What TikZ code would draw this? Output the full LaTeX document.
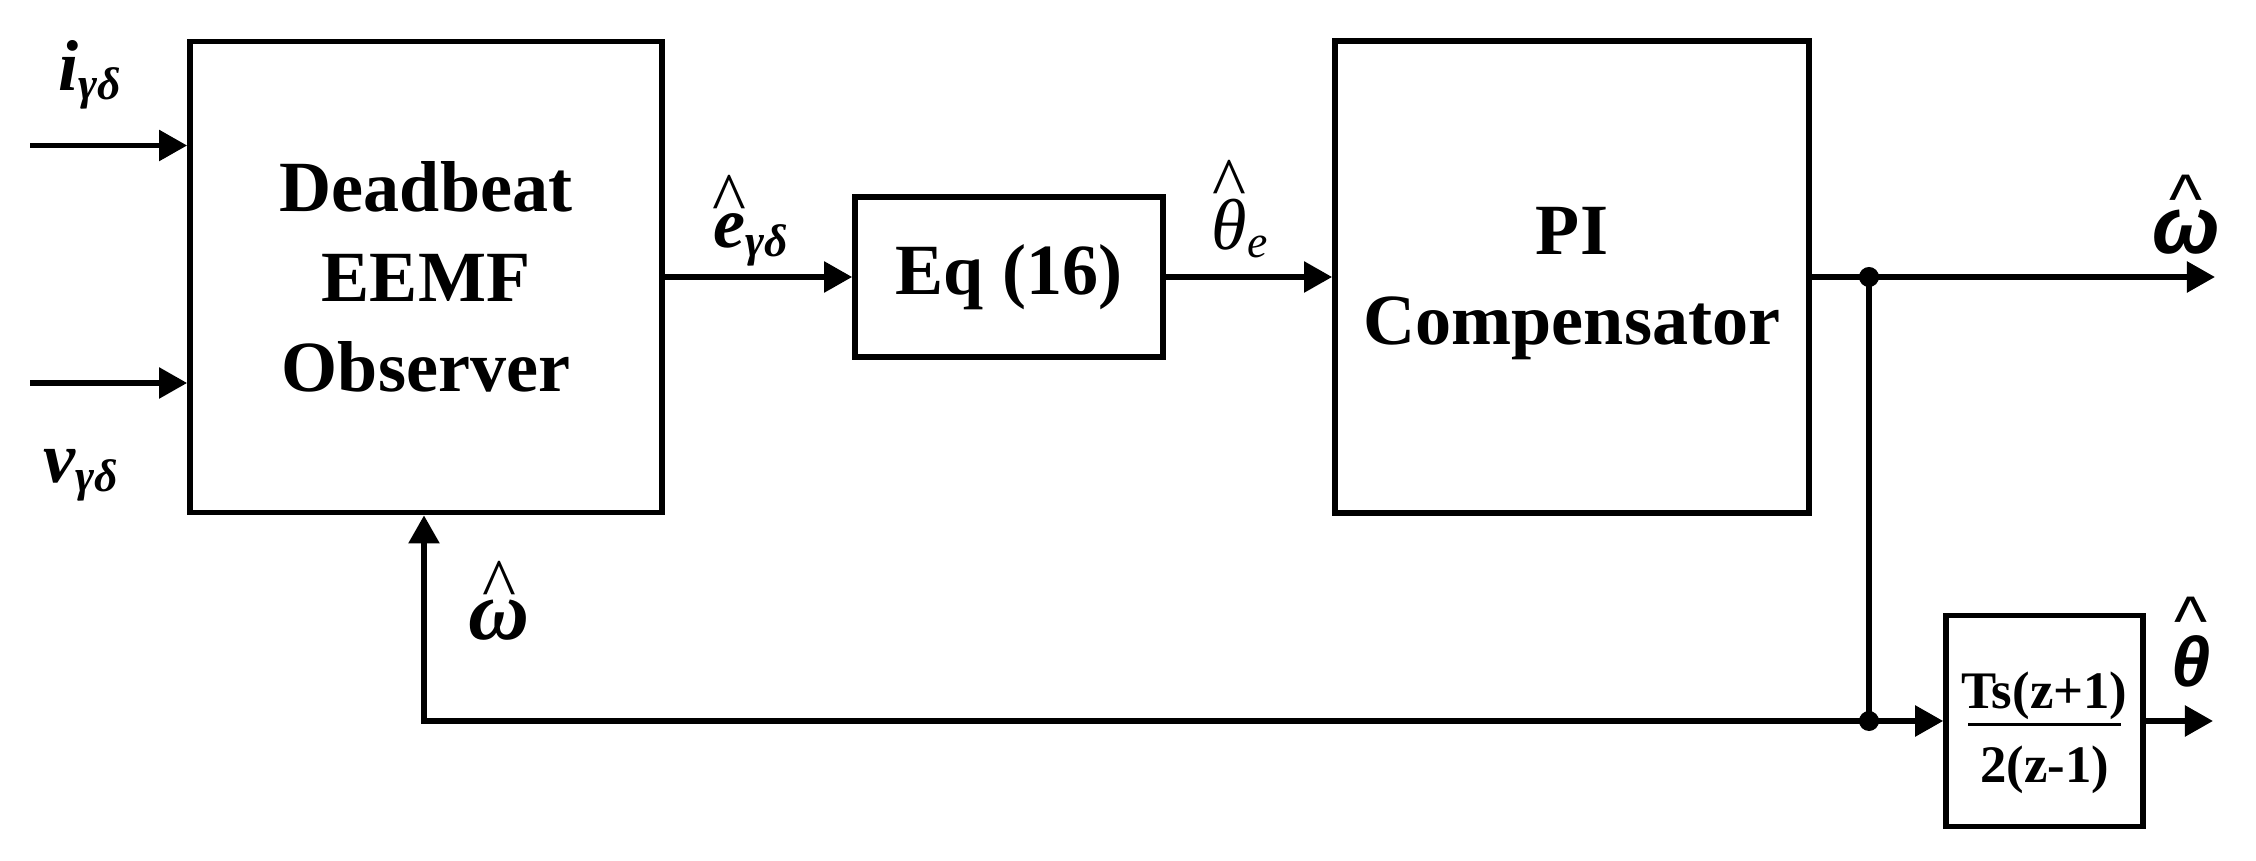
\documentclass[tikz,border=0pt]{standalone}
\usepackage{fontspec}
\setmainfont{Liberation Serif}
\newfontfamily\sansf{Liberation Sans}
\usetikzlibrary{arrows.meta}
\newcommand\hatover[3]{\ooalign{#3\cr\hidewidth\raisebox{#1}{#2\textasciicircum}\hidewidth\cr}}
\newcommand\serifhat{\normalfont\fontsize{20.5}{20}\selectfont}
\newcommand\sanshat{\sansf\mdseries\upshape\fontsize{20}{20}\selectfont}
\newcommand\subsz{\fontsize{13}{14}\selectfont}
\begin{document}
\begin{tikzpicture}[x=0.01cm,y=-0.01cm,
  lw/.style={line width=0.055cm},
  arr/.style={-{Triangle[length=0.28cm,width=0.30cm]}},
  blk/.style={draw, line width=0.055cm, inner sep=0pt, align=center,
    font=\fontsize{20.5}{25.5}\selectfont\bfseries},
  lbl/.style={inner sep=0pt, font=\fontsize{20.5}{24}\selectfont}]
\useasboundingbox (0,0) rectangle (2256,861);
% blocks
\node[blk, minimum width=4.72cm, minimum height=4.71cm] (obs) at (426,277) {Deadbeat\\EEMF\\Observer};
\node[blk, minimum width=3.08cm, minimum height=1.60cm] (eq) at (1009,277) {Eq (16)};
\node[blk, minimum width=4.74cm, minimum height=4.72cm] (pi) at (1572,277) {\rule{0pt}{17pt}PI\\Compensator};
\node[blk, minimum width=1.97cm, minimum height=2.11cm, font=\fontsize{15}{16}\selectfont\bfseries] (ts) at (2044.5,721)
  {\rule{0pt}{17pt}Ts(z+1)\\[-11pt]\rule{1.52cm}{0.03cm}\\2(z-1)};
% coordinates
\coordinate (iin) at (30,145.5);
\coordinate (vin) at (30,383);
\coordinate (j1) at (1869,277);
\coordinate (j2) at (1869,721);
\coordinate (wout) at (2215,277);
\coordinate (tout) at (2213,721);
\coordinate (fb) at (424,721);
% connectors
\draw[lw,arr] (iin) -- (iin -| obs.west);
\draw[lw,arr] (vin) -- (vin -| obs.west);
\draw[lw,arr] (obs.east) -- (eq.west);
\draw[lw,arr] (eq.east) -- (pi.west);
\draw[lw,arr] (pi.east) -- (wout);
\draw[lw] (j1) -- (j2);
\draw[lw,arr] (j2) -- (ts.west);
\draw[lw,arr] (j2) -- (fb) -- (fb |- obs.south);
\draw[lw,arr] (ts.east) -- (tout);
\fill (j1) circle (0.1cm);
\fill (j2) circle (0.1cm);
% labels
\node[lbl, anchor=base west] (il) at (58,91) {\bfseries\itshape i\raisebox{-0.12em}{\subsz γδ}};
\node[lbl, anchor=base west] (vl) at (43,483) {\bfseries\itshape v\raisebox{-0.12em}{\subsz γδ}};
\node[lbl, anchor=base west] (el) at (713,248) {\bfseries\itshape\hatover{0.25cm}{\serifhat}{e}\raisebox{-0.12em}{\subsz γδ}};
\node[lbl, anchor=base west] (thl) at (1211,250) {\itshape\hatover{0.42cm}{\serifhat}{θ}\raisebox{-0.1em}{\subsz e}};
\node[lbl, anchor=base, font=\fontsize{24}{26}\selectfont] (wfb) at (499,640) {\bfseries\itshape\hatover{0.31cm}{\serifhat}{ω}};
\node[lbl, anchor=base, font=\fontsize{23}{26}\selectfont\sansf] (wr) at (2186,254) {\bfseries\itshape\hatover{0.30cm}{\sanshat}{ω}};
\node[lbl, anchor=base, font=\fontsize{20}{24}\selectfont\sansf] (tr) at (2191,687) {\bfseries\itshape\hatover{0.41cm}{\sanshat}{θ}};
\end{tikzpicture}
\end{document}
